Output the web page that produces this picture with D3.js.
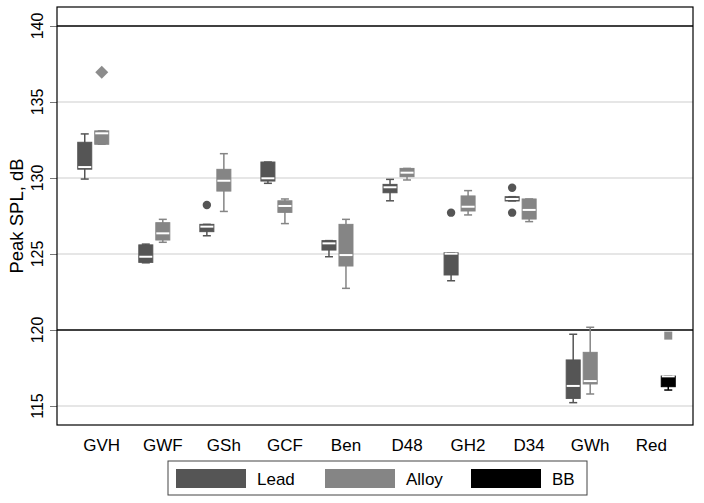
<!DOCTYPE html>
<html>
<head>
<meta charset="utf-8">
<script src="https://cdn.jsdelivr.net/npm/d3@7/dist/d3.min.js"></script>
<style>
  html, body { margin: 0; padding: 0; background: #fff; }
  text { font-family: "Liberation Sans", Arial, sans-serif; fill: #000; }
</style>
</head>
<body>
<svg id="chart" width="704" height="503"></svg>
<script>
// ---- data ----
const categories = ["GVH", "GWF", "GSh", "GCF", "Ben", "D48", "GH2", "D34", "GWh", "Red"];
const seriesNames = ["Lead", "Alloy", "BB"];
// each entry: [lower whisker, Q1, median, Q3, upper whisker]
const leadBoxes = [
  [129.93, 130.58, 130.72, 132.35, 132.9],
  [124.42, 124.45, 124.82, 125.6, 125.65],
  [126.2, 126.47, 126.8, 126.95, 126.95],
  [129.65, 129.8, 129.98, 131.05, 131.05],
  [124.82, 125.26, 125.7, 125.88, 125.88],
  [128.5, 129.03, 129.39, 129.58, 129.91],
  [123.24, 123.62, 125.02, 125.08, 125.08],
  [128.49, 128.49, 128.62, 128.77, 128.77],
  [115.22, 115.5, 116.32, 118.03, 119.72],
  null
];
const alloyBoxes = [
  [132.22, 132.22, 132.94, 133.1, 133.1],
  [125.77, 125.92, 126.36, 127.06, 127.28],
  [127.8, 129.14, 129.82, 130.57, 131.6],
  [127.0, 127.74, 128.16, 128.5, 128.62],
  [122.74, 124.21, 124.93, 126.95, 127.28],
  [129.87, 130.09, 130.35, 130.63, 130.63],
  [127.57, 127.83, 128.11, 128.82, 129.17],
  [127.13, 127.3, 127.9, 128.62, 128.62],
  [115.79, 116.45, 116.64, 118.53, 120.18],
  null
];
const bbBoxes = [null, null, null, null, null, null, null, null, null,
  [116.05, 116.27, 116.95, 116.97, 116.97]];
// outliers: [category, value]
const leadOutliers = [["GSh", 128.22], ["GH2", 127.72], ["D34", 129.36], ["D34", 127.72]];
const alloyOutliers = [["GVH", 136.95]];
const bbOutliers = [["Red", 119.63]];
const yTicks = [115, 120, 125, 130, 135, 140];
const yRefLines = [120, 140];

// ---- layout ----
const svg = d3.select("#chart");
const L = 57, R = 693, T = 7, B = 425;
const y = d3.scaleLinear().domain([113.75, 141.25]).range([B, T]);
const x = d3.scalePoint().domain(categories).range([59, 694]).padding(0.7);
const offset = d3.scaleOrdinal().domain(seriesNames).range([-17, 0, 17]);
const colors = { Lead: "#555555", Alloy: "#858585", BB: "#000000" };
const outlierColors = { Lead: "#555555", Alloy: "#8c8c8c", BB: "#8c8c8c" };
const boxW = 14, capW = 8;

// gridlines
svg.append("g").selectAll("line").data(yTicks.filter(t => !yRefLines.includes(t))).join("line")
  .attr("x1", L).attr("x2", R).attr("y1", d => y(d)).attr("y2", d => y(d))
  .attr("stroke", "#dedede").attr("stroke-width", 1.5);
svg.append("g").selectAll("line").data(yRefLines).join("line")
  .attr("x1", L).attr("x2", R).attr("y1", d => y(d)).attr("y2", d => y(d))
  .attr("stroke", "#000").attr("stroke-width", 1.5);

// y axis
const yAxis = d3.axisLeft(y).tickValues(yTicks).tickSize(7).tickFormat("");
const ga = svg.append("g").attr("transform", `translate(${L},0)`).call(yAxis);
ga.select(".domain").remove();
ga.selectAll(".tick line").attr("stroke", "#777").attr("stroke-width", 1);
svg.append("g").selectAll("text").data(yTicks).join("text")
  .attr("transform", d => `translate(43,${y(d)}) rotate(-90)`)
  .attr("text-anchor", "middle").attr("font-size", 16).text(d => d);
svg.append("text").attr("transform", `translate(23,${(T + B) / 2}) rotate(-90)`)
  .attr("text-anchor", "middle").attr("font-size", 18.5).text("Peak SPL, dB");

// x labels
svg.append("g").selectAll("text").data(categories).join("text")
  .attr("x", d => x(d)).attr("y", 451).attr("text-anchor", "middle")
  .attr("font-size", 17).text(d => d);

// boxes
const series = [["Lead", leadBoxes], ["Alloy", alloyBoxes], ["BB", bbBoxes]];
series.forEach(([name, arr]) => {
  const data = arr.map((v, i) => v ? { cat: categories[i], v } : null).filter(Boolean);
  const g = svg.append("g").selectAll("g").data(data).join("g")
    .attr("transform", d => `translate(${x(d.cat) + offset(name)},0)`);
  const c = colors[name];
  // whiskers
  g.append("line").attr("x1", 0).attr("x2", 0).attr("y1", d => y(d.v[0])).attr("y2", d => y(d.v[4]))
    .attr("stroke", c).attr("stroke-width", 1.5);
  g.append("line").attr("x1", -capW / 2).attr("x2", capW / 2).attr("y1", d => y(d.v[0])).attr("y2", d => y(d.v[0]))
    .attr("stroke", c).attr("stroke-width", 1.5);
  g.append("line").attr("x1", -capW / 2).attr("x2", capW / 2).attr("y1", d => y(d.v[4])).attr("y2", d => y(d.v[4]))
    .attr("stroke", c).attr("stroke-width", 1.5);
  // box
  g.append("rect").attr("x", -boxW / 2).attr("width", boxW)
    .attr("y", d => y(d.v[3])).attr("height", d => Math.max(0.5, y(d.v[1]) - y(d.v[3])))
    .attr("fill", c).attr("stroke", c).attr("stroke-width", 1);
  // median
  g.append("line").attr("x1", -boxW / 2 + 0.5).attr("x2", boxW / 2 - 0.5)
    .attr("y1", d => y(d.v[2])).attr("y2", d => y(d.v[2]))
    .attr("stroke", "#fff").attr("stroke-width", 2);
});

// outliers
svg.append("g").selectAll("circle").data(leadOutliers).join("circle")
  .attr("cx", d => x(d[0]) + offset("Lead")).attr("cy", d => y(d[1])).attr("r", 4.2)
  .attr("fill", outlierColors.Lead);
svg.append("g").selectAll("path").data(alloyOutliers).join("path")
  .attr("transform", d => `translate(${x(d[0]) + offset("Alloy")},${y(d[1])})`)
  .attr("d", "M0,-6.5L6.5,0L0,6.5L-6.5,0Z").attr("fill", outlierColors.Alloy);
svg.append("g").selectAll("rect").data(bbOutliers).join("rect")
  .attr("x", d => x(d[0]) + offset("BB") - 4).attr("y", d => y(d[1]) - 4)
  .attr("width", 8).attr("height", 8).attr("fill", outlierColors.BB);

// frame
svg.append("rect").attr("x", L).attr("y", T).attr("width", R - L).attr("height", B - T)
  .attr("fill", "none").attr("stroke", "#000").attr("stroke-width", 1.2);

// legend
const lg = svg.append("g");
lg.append("rect").attr("x", 168).attr("y", 461).attr("width", 419).attr("height", 34)
  .attr("fill", "#fff").attr("stroke", "#444").attr("stroke-width", 1);
const legX = d3.scaleOrdinal().domain(seriesNames).range([176, 325, 471]);
const li = lg.selectAll("g").data(seriesNames).join("g")
  .attr("transform", d => `translate(${legX(d)},0)`);
li.append("rect").attr("x", 0).attr("y", 469).attr("width", 70).attr("height", 19)
  .attr("fill", d => colors[d]);
li.append("text").attr("x", 81).attr("y", 485).attr("font-size", 17).text(d => d);
</script>
</body>
</html>
